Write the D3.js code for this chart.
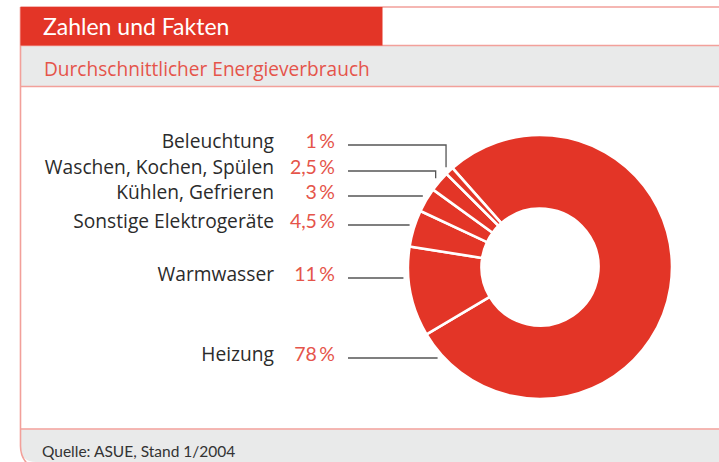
<!doctype html>
<html>

<head>
    <meta charset="utf-8">
    <title>Energieverbrauch</title>
    <style>
        body {
            margin: 0;
            background: #fff;
        }

        svg {
            display: block;
            font-family: Lato, "Open Sans", sans-serif;
        }

        .wide {
            font-family: "Open Sans", Lato, sans-serif;
        }
    </style>
    <script src="https://cdn.jsdelivr.net/npm/d3@7"></script>
</head>

<body>
    <svg width="719" height="462"></svg>
    <script>
        // data, clockwise starting with Heizung
        var categories = ["Heizung", "Warmwasser", "Sonstige Elektrogeräte", "Kühlen, Gefrieren", "Waschen, Kochen, Spülen", "Beleuchtung"];
        var values = [78, 11, 4.5, 3, 2.5, 1];
        // label rows top to bottom (layout only)
        var labelOrder = ["Beleuchtung", "Waschen, Kochen, Spülen", "Kühlen, Gefrieren", "Sonstige Elektrogeräte", "Warmwasser", "Heizung"];
        var labelY = [145, 171, 196, 225, 278, 358];

        var red = "#e33527",
            border = "#f2a09a",
            grey = "#e9eaea";

        var svg = d3.select("svg");

        // frame
        svg.append("rect").attr("x", 20.5).attr("y", 45.5).attr("width", 700).attr("height", 41)
            .attr("fill", grey);
        svg.append("path")
            .attr("d", "M20.5,429.5 H720 V462 H36 Q20.5,462 20.5,446 Z")
            .attr("fill", grey);
        svg.append("path")
            .attr("d", "M20.5,7 V446 Q20.5,462 36,470")
            .attr("stroke", border).attr("stroke-width", 1.6).attr("fill", "none");
        svg.append("path")
            .attr("d", "M20.5,45.5 H720 M20.5,86.5 H720 M20.5,429 H720 M20.5,7 H720")
            .attr("stroke", border).attr("stroke-width", 1.6).attr("fill", "none");
        svg.append("rect").attr("x", 20.5).attr("y", 7).attr("width", 362).attr("height", 38.5)
            .attr("fill", red);

        svg.append("text").attr("x", 43).attr("y", 35).attr("fill", "#fff")
            .attr("font-size", 23).text("Zahlen und Fakten");
        svg.append("text").attr("class", "wide").attr("x", 44).attr("y", 75.5).attr("fill", "#e5544a")
            .attr("font-size", 19.1).text("Durchschnittlicher Energieverbrauch");
        svg.append("text").attr("x", 42).attr("y", 456.5).attr("fill", "#333")
            .attr("font-size", 15.5).text("Quelle: ASUE, Stand 1/2004");

        // donut
        var cx = 540, cy = 267, outerR = 132, innerR = 58.5;
        var start = -41.5 * Math.PI / 180;
        var pie = d3.pie().sort(null).startAngle(start).endAngle(start + 2 * Math.PI);
        var arcs = pie(values);
        var arc = d3.arc().innerRadius(innerR).outerRadius(outerR);

        var g = svg.append("g").attr("transform", "translate(" + cx + "," + cy + ")");
        g.selectAll("path.slice")
            .data(arcs)
            .enter().append("path")
            .attr("class", "slice")
            .attr("d", arc)
            .attr("fill", red)
            .attr("stroke", "#fff")
            .attr("stroke-width", 2.6)
            .attr("stroke-linejoin", "round");

        var fmt = function (v) {
            return String(v).replace(".", ",") + "\u2009%";
        };

        // labels + leader lines
        var R = outerR + 5;
        var tau = 2 * Math.PI;
        var norm = function (a) {
            return ((a % tau) + tau) % tau;
        };
        labelOrder.forEach(function (name, i) {
            var k = categories.indexOf(name),
                a = arcs[k],
                y = labelY[i];
            svg.append("text").attr("class", "wide").attr("x", 274).attr("y", y + 2.5).attr("text-anchor", "end")
                .attr("fill", "#2b2b2b").attr("font-size", 19.2).text(name);
            svg.append("text").attr("x", 335).attr("y", y + 2.5).attr("text-anchor", "end")
                .attr("fill", "#e5544a").attr("font-size", 19.5).text(fmt(values[k]));

            // where the horizontal line meets the ring
            var dy = y - cy,
                hx = -Math.sqrt(Math.max(0, R * R - dy * dy)),
                ang = norm(Math.atan2(hx, -dy)),
                s = norm(a.startAngle),
                span = a.endAngle - a.startAngle,
                off = norm(ang - s),
                margin = 1.5 * Math.PI / 180,
                d;
            if (off > margin && off < span - margin) {
                d = "M348," + y + "H" + (cx + hx);
            } else {
                var mid = (a.startAngle + a.endAngle) / 2,
                    px = cx + R * Math.sin(mid),
                    py = cy - R * Math.cos(mid);
                d = "M348," + y + "H" + px + "V" + py;
            }
            svg.append("path").attr("d", d).attr("fill", "none")
                .attr("stroke", "#555").attr("stroke-width", 1.3);
        });
    </script>
</body>

</html>
